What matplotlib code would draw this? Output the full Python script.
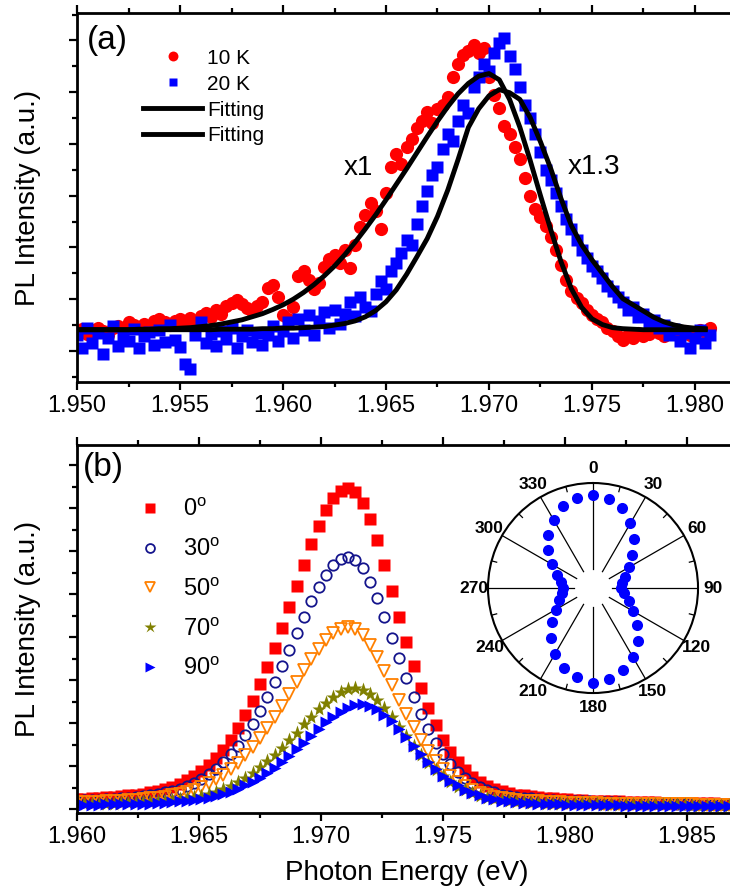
import numpy as np
import matplotlib
matplotlib.use("Agg")
import matplotlib.pyplot as plt
from matplotlib.ticker import MultipleLocator, FormatStrFormatter

plt.rcParams["font.family"] = ["Liberation Sans", "DejaVu Sans"]
plt.rcParams["mathtext.fontset"] = "custom"
plt.rcParams["mathtext.rm"] = "Liberation Sans"

# ---------------- panel (a): PL at 10 K and 20 K ----------------
# spectra sampled every 0.25 meV starting at 1.950 eV
e0_a, de_a = 1.950, 0.00025
pl_10k = [0.36, 0.42, 0.33, 0.40, 0.45, 0.38, 0.30, 0.44, 0.48, 0.41,
          0.55, 0.50, 0.46, 0.53, 0.44, 0.58, 0.61, 0.55, 0.50, 0.57,
          0.62, 0.58, 0.64, 0.56, 0.68, 0.74, 0.66, 0.79, 0.72, 0.86,
          0.92, 0.98, 0.90, 0.83, 0.78, 0.86, 0.94, 1.22, 1.28, 1.05,
          0.70, 0.62, 0.84, 1.45, 1.54, 1.38, 1.20, 1.32, 1.62, 1.78,
          1.86, 1.70, 1.95, 1.60, 2.05, 2.40, 2.62, 2.85, 2.70, 2.35,
          3.05, 3.55, 3.80, 3.62, 3.95, 4.10, 4.30, 4.45, 4.62, 4.40,
          4.68, 4.75, 4.90, 5.30, 5.55, 5.72, 5.80, 5.92, 5.75, 5.85,
          5.30, 4.95, 4.70, 4.35, 4.20, 3.95, 3.70, 3.35, 3.00, 2.75,
          2.58, 2.42, 2.20, 1.95, 1.66, 1.38, 1.16, 1.02, 0.92, 0.80,
          0.70, 0.62, 0.55, 0.45, 0.38, 0.28, 0.22, 0.30, 0.25, 0.35,
          0.28, 0.32, 0.40, 0.34, 0.28, 0.36, 0.42, 0.33, 0.38, 0.30,
          0.35, 0.41, 0.37, 0.44]
pl_20k = [0.30, 0.05, 0.45, 0.15, 0.35, -0.05, 0.25, 0.48, 0.10, 0.30,
          0.20, 0.42, 0.05, 0.28, 0.36, 0.12, 0.40, 0.18, 0.50, 0.22,
          0.08, -0.25, -0.35, 0.30, 0.55, 0.15, 0.32, 0.10, 0.38, 0.24,
          0.45, 0.05, 0.28, 0.40, 0.18, 0.35, 0.12, 0.30, 0.48, 0.20,
          0.38, 0.55, 0.25, 0.62, 0.40, 0.70, 0.30, 0.58, 0.75, 0.45,
          0.80, 0.52, 0.72, 0.95, 0.68, 1.05, 0.85, 0.78, 1.10, 1.35,
          1.20, 1.55, 1.70, 1.90, 2.15, 2.05, 2.45, 2.80, 3.10, 3.40,
          3.55, 3.90, 4.20, 4.05, 4.45, 4.75, 4.60, 5.10, 5.30, 5.55,
          5.40, 5.75, 5.95, 6.05, 5.70, 5.45, 5.10, 4.75, 4.50, 4.20,
          3.85, 3.50, 3.30, 3.05, 2.80, 2.55, 2.35, 2.15, 1.95, 1.80,
          1.65, 1.55, 1.40, 1.25, 1.15, 1.05, 0.95, 0.80, 0.85, 0.65,
          0.72, 0.55, 0.60, 0.45, 0.50, 0.30, 0.42, 0.20, 0.35, 0.05,
          0.25, 0.40, 0.15, 0.30]

# fitted curves sampled every 0.5 meV starting at 1.950 eV
e0_fit, de_fit = 1.950, 0.0005
fit_10k = [0.41, 0.41, 0.41, 0.41, 0.41, 0.41, 0.42, 0.42, 0.43, 0.43,
           0.44, 0.45, 0.47, 0.49, 0.52, 0.56, 0.60, 0.66, 0.72, 0.80,
           0.89, 1.00, 1.13, 1.28, 1.45, 1.64, 1.86, 2.10, 2.36, 2.63,
           2.92, 3.22, 3.52, 3.83, 4.14, 4.44, 4.72, 4.97, 5.17, 5.31,
           5.36, 5.24, 4.86, 4.32, 3.68, 3.00, 2.34, 1.72, 1.20, 0.84,
           0.62, 0.51, 0.45, 0.43, 0.42, 0.41, 0.41, 0.41, 0.41, 0.41,
           0.41, 0.41]
fit_20k = [0.41, 0.41, 0.41, 0.41, 0.41, 0.41, 0.41, 0.41, 0.41, 0.41,
           0.41, 0.41, 0.41, 0.41, 0.42, 0.42, 0.42, 0.42, 0.43, 0.43,
           0.44, 0.44, 0.45, 0.46, 0.47, 0.50, 0.53, 0.58, 0.66, 0.78,
           0.95, 1.18, 1.48, 1.82, 2.17, 2.60, 3.11, 3.70, 4.32, 4.68,
           4.93, 5.05, 4.99, 4.86, 4.51, 4.04, 3.52, 2.94, 2.42, 2.05,
           1.76, 1.50, 1.24, 1.01, 0.89, 0.77, 0.65, 0.56, 0.50, 0.46,
           0.44, 0.43]

# ---------------- panel (b): polarization-resolved PL ----------------
# spectra sampled every 0.3 meV starting at 1.960 eV
e0_b, de_b = 1.960, 0.0003
pol_labels = [r"0$^{\mathrm{o}}$", r"30$^{\mathrm{o}}$", r"50$^{\mathrm{o}}$",
              r"70$^{\mathrm{o}}$", r"90$^{\mathrm{o}}$"]
pl_0 = [0.23, 0.24, 0.25, 0.26, 0.28, 0.29, 0.30, 0.32, 0.34, 0.36,
        0.39, 0.43, 0.47, 0.52, 0.59, 0.67, 0.76, 0.88, 1.02, 1.18,
        1.38, 1.61, 1.88, 2.18, 2.52, 2.90, 3.31, 3.75, 4.22, 4.71,
        5.20, 5.69, 6.16, 6.58, 6.95, 7.23, 7.41, 7.47, 7.38, 7.13,
        6.74, 6.25, 5.68, 5.08, 4.47, 3.88, 3.32, 2.81, 2.35, 1.95,
        1.61, 1.33, 1.09, 0.90, 0.75, 0.64, 0.54, 0.47, 0.42, 0.38,
        0.34, 0.32, 0.30, 0.28, 0.26, 0.25, 0.24, 0.23, 0.22, 0.21,
        0.20, 0.20, 0.19, 0.18, 0.18, 0.17, 0.17, 0.16, 0.16, 0.16,
        0.15, 0.15, 0.15, 0.14, 0.14, 0.14, 0.14, 0.14, 0.13, 0.13]
pl_30 = [0.20, 0.21, 0.21, 0.22, 0.23, 0.24, 0.25, 0.27, 0.28, 0.30,
         0.33, 0.35, 0.39, 0.43, 0.48, 0.54, 0.61, 0.70, 0.81, 0.94,
         1.10, 1.28, 1.48, 1.72, 1.99, 2.28, 2.61, 2.95, 3.32, 3.70,
         4.09, 4.47, 4.83, 5.17, 5.45, 5.67, 5.81, 5.86, 5.79, 5.60,
         5.29, 4.90, 4.46, 3.99, 3.52, 3.05, 2.62, 2.22, 1.86, 1.54,
         1.28, 1.05, 0.87, 0.72, 0.61, 0.51, 0.44, 0.39, 0.34, 0.31,
         0.29, 0.26, 0.25, 0.23, 0.22, 0.21, 0.20, 0.19, 0.19, 0.18,
         0.18, 0.17, 0.17, 0.16, 0.16, 0.15, 0.15, 0.15, 0.14, 0.14,
         0.14, 0.14, 0.13, 0.13, 0.13, 0.13, 0.13, 0.12, 0.12, 0.12]
pl_50 = [0.16, 0.16, 0.17, 0.17, 0.18, 0.19, 0.20, 0.21, 0.22, 0.23,
         0.25, 0.27, 0.29, 0.32, 0.36, 0.40, 0.45, 0.52, 0.60, 0.69,
         0.80, 0.93, 1.08, 1.25, 1.44, 1.66, 1.89, 2.14, 2.40, 2.68,
         2.95, 3.23, 3.49, 3.73, 3.94, 4.09, 4.20, 4.23, 4.18, 4.04,
         3.82, 3.54, 3.22, 2.89, 2.54, 2.21, 1.90, 1.61, 1.35, 1.12,
         0.93, 0.77, 0.64, 0.53, 0.45, 0.38, 0.33, 0.29, 0.26, 0.24,
         0.22, 0.20, 0.19, 0.18, 0.17, 0.17, 0.16, 0.15, 0.15, 0.14,
         0.14, 0.14, 0.13, 0.13, 0.13, 0.12, 0.12, 0.12, 0.12, 0.11,
         0.11, 0.11, 0.11, 0.11, 0.11, 0.10, 0.10, 0.10, 0.10, 0.10]
pl_70 = [0.11, 0.12, 0.12, 0.12, 0.13, 0.13, 0.14, 0.14, 0.15, 0.16,
         0.17, 0.18, 0.19, 0.21, 0.23, 0.25, 0.28, 0.31, 0.36, 0.41,
         0.47, 0.54, 0.63, 0.73, 0.84, 0.97, 1.11, 1.26, 1.43, 1.60,
         1.78, 1.97, 2.15, 2.32, 2.48, 2.62, 2.72, 2.79, 2.81, 2.78,
         2.68, 2.54, 2.35, 2.14, 1.92, 1.69, 1.47, 1.27, 1.08, 0.91,
         0.76, 0.63, 0.52, 0.44, 0.37, 0.31, 0.27, 0.23, 0.21, 0.19,
         0.17, 0.16, 0.15, 0.14, 0.13, 0.13, 0.12, 0.12, 0.11, 0.11,
         0.11, 0.11, 0.10, 0.10, 0.10, 0.10, 0.09, 0.09, 0.09, 0.09,
         0.09, 0.09, 0.09, 0.09, 0.08, 0.08, 0.08, 0.08, 0.08, 0.08]
pl_90 = [0.10, 0.10, 0.10, 0.10, 0.11, 0.11, 0.11, 0.12, 0.12, 0.13,
         0.13, 0.14, 0.15, 0.16, 0.18, 0.19, 0.21, 0.24, 0.27, 0.31,
         0.35, 0.41, 0.47, 0.55, 0.63, 0.73, 0.84, 0.96, 1.09, 1.24,
         1.39, 1.55, 1.71, 1.86, 2.02, 2.15, 2.27, 2.36, 2.42, 2.44,
         2.41, 2.33, 2.20, 2.04, 1.86, 1.67, 1.47, 1.28, 1.10, 0.93,
         0.78, 0.66, 0.55, 0.45, 0.38, 0.32, 0.27, 0.23, 0.20, 0.18,
         0.16, 0.15, 0.14, 0.13, 0.12, 0.11, 0.11, 0.10, 0.10, 0.10,
         0.09, 0.09, 0.09, 0.09, 0.09, 0.08, 0.08, 0.08, 0.08, 0.08,
         0.08, 0.08, 0.07, 0.07, 0.07, 0.07, 0.07, 0.07, 0.07, 0.07]

# inset: integrated intensity vs. polarizer angle (normalized)
polar_deg = [0, 10, 20, 30, 40, 50, 60, 70, 80, 90, 100, 110,
             120, 130, 140, 150, 160, 170, 180, 190, 200, 210, 220, 230,
             240, 250, 260, 270, 280, 290, 300, 310, 320, 330, 340, 350]
polar_r = [0.89, 0.86, 0.81, 0.71, 0.61, 0.49, 0.40, 0.32, 0.28, 0.27,
           0.30, 0.36, 0.44, 0.55, 0.66, 0.76, 0.83, 0.88, 0.90, 0.86,
           0.81, 0.72, 0.62, 0.51, 0.41, 0.34, 0.30, 0.29, 0.31, 0.37,
           0.45, 0.56, 0.66, 0.75, 0.83, 0.87]
grid_deg = [0, 30, 60, 90, 120, 150, 180, 210, 240, 270, 300, 330]


def style(ax):
    for s in ["left", "top", "bottom"]:
        ax.spines[s].set_linewidth(2)
    ax.spines["right"].set_visible(False)
    ax.tick_params(which="both", direction="out", width=1.6, top=True,
                   right=False, labelleft=False, labelsize=17)
    ax.tick_params(which="major", length=6)
    ax.tick_params(which="minor", length=3.5)
    ax.xaxis.set_major_locator(MultipleLocator(0.005))
    ax.xaxis.set_minor_locator(MultipleLocator(0.0025))
    ax.xaxis.set_major_formatter(FormatStrFormatter("%.3f"))
    ax.yaxis.set_major_locator(MultipleLocator(1))
    ax.yaxis.set_minor_locator(MultipleLocator(0.5))
    ax.set_ylabel("PL Intensity (a.u.)", fontsize=20)
    ax.yaxis.set_label_coords(-0.055, 0.5)


fig = plt.figure(figsize=(7.3, 8.9), dpi=100)

# ---- (a)
ax_a = fig.add_axes([0.1055, 0.5708, 0.8945, 0.4146])
e_a = e0_a + de_a * np.arange(len(pl_10k))
e_fit = e0_fit + de_fit * np.arange(len(fit_10k))
h10, = ax_a.plot(e_a, pl_10k, "o", color="#ff0000", ms=9.5, mec="none")
h20, = ax_a.plot(e_a, pl_20k, "s", color="#0000ff", ms=8.5, mec="none")
hf1, = ax_a.plot(e_fit, fit_10k, "-", color="black", lw=3.5)
hf2, = ax_a.plot(e_fit, fit_20k, "-", color="black", lw=3.5)
ax_a.set_xlim(1.950, 1.9817)
ax_a.set_ylim(-0.6, 6.53)
style(ax_a)
ax_a.legend([h10, h20, hf1, hf2], ["10 K", "20 K", "Fitting", "Fitting"],
            loc="upper left", bbox_to_anchor=(0.101, 0.903), frameon=False,
            fontsize=15, handlelength=2.84, handletextpad=0.25,
            labelspacing=0.33, borderpad=0, borderaxespad=0, numpoints=1,
            markerscale=0.75)
ax_a.text(1.96364, 3.53, "x1", fontsize=20, ha="center", va="center")
ax_a.text(1.9751, 3.55, "x1.3", fontsize=20, ha="center", va="center")
ax_a.text(0.015, 0.968, "(a)", transform=ax_a.transAxes, fontsize=24,
          ha="left", va="top")

# ---- (b)
ax_b = fig.add_axes([0.1055, 0.0865, 0.8945, 0.4135])
e_b = e0_b + de_b * np.arange(len(pl_0))
hb = []
hb += ax_b.plot(e_b, pl_0, "s", color="#ff0000", ms=8.5, mec="none")
hb += ax_b.plot(e_b, pl_30, "o", mfc="none", mec="#14148c", ms=7.5, mew=1.3)
hb += ax_b.plot(e_b, pl_50, "v", mfc="none", mec="#ff8000", ms=8.5, mew=1.3)
hb += ax_b.plot(e_b, pl_70, "*", color="#808000", ms=11, mec="none")
hb += ax_b.plot(e_b, pl_90, ">", color="#0000ff", ms=8.5, mec="none")
ax_b.set_xlim(1.960, 1.98676)
ax_b.set_ylim(-0.09, 8.47)
style(ax_b)
ax_b.set_xlabel("Photon Energy (eV)", fontsize=20)
ax_b.xaxis.set_label_coords(0.505, -0.128)
ax_b.legend(hb, pol_labels, loc="upper left", bbox_to_anchor=(0.093, 0.856),
            frameon=False, fontsize=17, handlelength=1.0, handletextpad=0.9,
            labelspacing=0.72, borderpad=0, borderaxespad=0, numpoints=1,
            markerscale=0.85)
ax_b.text(0.009, 0.981, "(b)", transform=ax_b.transAxes, fontsize=24,
          ha="left", va="top")

# ---- inset polar plot
ax_p = fig.add_axes([0.6685, 0.2213, 0.2877, 0.236], projection="polar")
ax_p.set_theta_zero_location("N")
ax_p.set_theta_direction(-1)
ax_p.grid(False)
ax_p.set_ylim(0, 1)
ax_p.set_yticks([])
for a in grid_deg:
    ax_p.plot([np.deg2rad(a)] * 2, [0.18, 1.0], color="black", lw=0.9)
    ax_p.plot([np.deg2rad(a + 15)] * 2, [0.95, 1.0], color="black", lw=0.9)
ax_p.plot(np.deg2rad(polar_deg), polar_r, "o", color="#0000ff", ms=8,
          mec="none", clip_on=False, zorder=3)
ax_p.set_xticks(np.deg2rad(grid_deg))
ax_p.set_xticklabels([str(a) for a in grid_deg], fontsize=12.5,
                     fontweight="bold")
ax_p.tick_params(axis="x", pad=0)
ax_p.spines["polar"].set_linewidth(1.5)

fig.savefig("out.png", dpi=100)
